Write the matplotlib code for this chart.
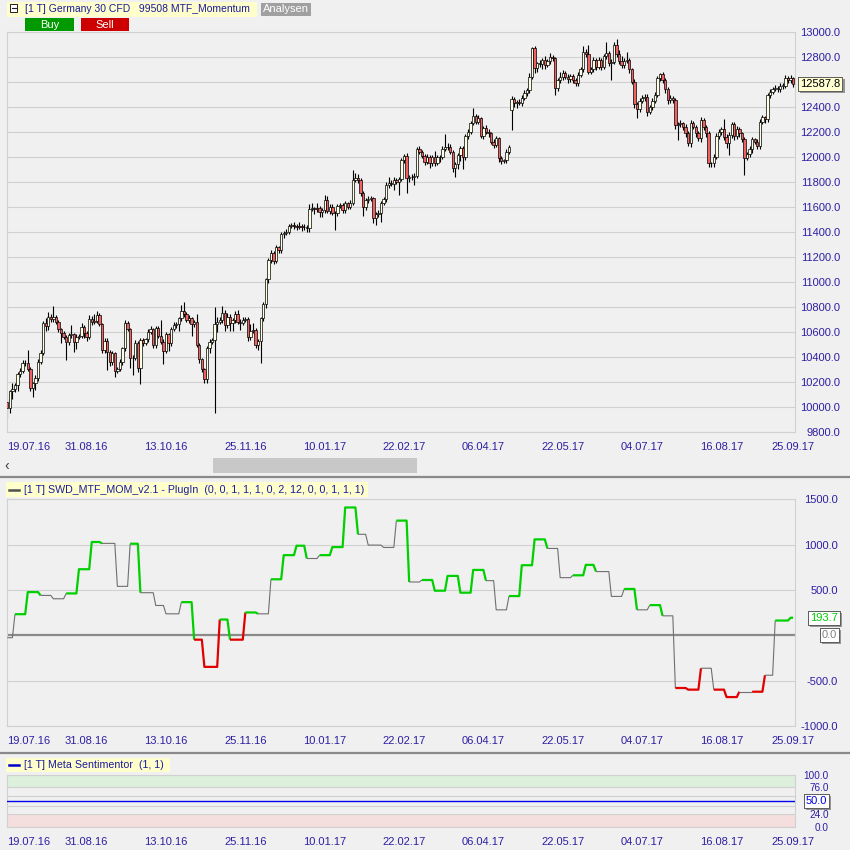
import numpy as np
import matplotlib
matplotlib.use("Agg")
import matplotlib.pyplot as plt
import matplotlib.patheffects as pe
import matplotlib.transforms as mtransforms
from matplotlib.patches import Rectangle
from matplotlib.lines import Line2D

W, H = 850, 850

# ---- data ------------------------------------------------------------------
date_labels = ["19.07.16", "31.08.16", "13.10.16", "25.11.16", "10.01.17", "22.02.17",
               "06.04.17", "22.05.17", "04.07.17", "16.08.17", "25.09.17"]
date_bars = [0, 31, 62, 93, 124, 155, 186, 217, 248, 279, 307]
grid_bars = date_bars[1:-1]

first_open = 10045
gap_opens = {197: 12378}
closes = [
    9991, 10130, 10146, 10181, 10266, 10293, 10351, 10357, 10303, 10151,
    10191, 10231, 10365, 10431, 10671, 10650, 10719, 10706, 10719, 10679,
    10623, 10591, 10565, 10519, 10578, 10583, 10525, 10565, 10570, 10645,
    10591, 10565, 10703, 10685, 10693, 10738, 10663, 10458, 10533, 10445,
    10359, 10431, 10293, 10306, 10365, 10471, 10671, 10623, 10391, 10397,
    10511, 10311, 10538, 10511, 10543, 10605, 10623, 10498, 10631, 10570,
    10525, 10450, 10583, 10511, 10623, 10658, 10663, 10711, 10770, 10743,
    10698, 10711, 10663, 10679, 10498, 10383, 10303, 10223, 10471, 10525,
    10538, 10666, 10684, 10698, 10757, 10658, 10724, 10671, 10698, 10746,
    10684, 10676, 10698, 10705, 10559, 10612, 10618, 10498, 10530, 10711,
    10826, 11023, 11178, 11231, 11173, 11279, 11258, 11383, 11397, 11405,
    11450, 11458, 11450, 11439, 11450, 11439, 11445, 11431, 11583, 11591,
    11583, 11597, 11565, 11578, 11658, 11573, 11605, 11557, 11552, 11610,
    11618, 11578, 11631, 11605, 11637, 11818, 11831, 11818, 11717, 11599,
    11658, 11663, 11671, 11511, 11546, 11557, 11637, 11663, 11778, 11797,
    11783, 11818, 11805, 11826, 11978, 12010, 11831, 11845, 11840, 11853,
    12063, 12045, 12010, 11965, 12000, 11951, 12005, 11951, 12000, 12005,
    12063, 12079, 12085, 12045, 11911, 11946, 12018, 12071, 12000, 12170,
    12205, 12271, 12330, 12285, 12311, 12170, 12231, 12205, 12191, 12125,
    12098, 12151, 11991, 11970, 11975, 12045, 12085, 12463, 12431, 12445,
    12437, 12471, 12511, 12538, 12645, 12871, 12711, 12751, 12743, 12778,
    12738, 12770, 12805, 12791, 12551, 12618, 12639, 12677, 12645, 12623,
    12650, 12618, 12591, 12658, 12703, 12845, 12826, 12685, 12703, 12778,
    12725, 12778, 12725, 12810, 12831, 12757, 12765, 12898, 12826, 12773,
    12738, 12773, 12778, 12703, 12605, 12426, 12383, 12453, 12471, 12485,
    12365, 12405, 12453, 12498, 12631, 12666, 12618, 12543, 12458, 12471,
    12458, 12258, 12266, 12271, 12244, 12191, 12111, 12271, 12245, 12191,
    12151, 12298, 12245, 12191, 11951, 11951, 12005, 12170, 12205, 12225,
    12165, 12116, 12178, 12266, 12170, 12223, 12191, 12143, 11997, 12023,
    12063, 12143, 12125, 12090, 12285, 12319, 12303, 12498, 12525, 12543,
    12551, 12545, 12570, 12572, 12631, 12618, 12631, 12587.8,
]
wick_up = [
    30, 10, 45, 15, 20, 25, 30, 20, 100, 20,
    15, 30, 20, 25, 20, 40, 40, 25, 90, 20,
    20, 15, 20, 15, 20, 75, 15, 20, 15, 30,
    15, 20, 35, 25, 50, 30, 20, 15, 20, 25,
    15, 20, 15, 20, 20, 15, 30, 20, 15, 20,
    25, 20, 15, 20, 15, 20, 25, 15, 20, 20,
    128, 20, 20, 15, 20, 25, 20, 15, 50, 75,
    20, 25, 15, 20, 64, 20, 15, 15, 20, 25,
    20, 138, 40, 25, 50, 20, 30, 20, 20, 25,
    30, 20, 25, 20, 15, 55, 60, 15, 20, 15,
    20, 15, 20, 25, 20, 20, 15, 20, 15, 25,
    20, 15, 25, 15, 30, 15, 20, 15, 40, 45,
    15, 40, 15, 20, 40, 30, 20, 25, 15, 20,
    20, 15, 20, 15, 20, 80, 40, 35, 20, 15,
    20, 25, 20, 15, 20, 25, 15, 20, 25, 45,
    20, 25, 20, 15, 20, 20, 25, 15, 20, 20,
    20, 30, 15, 20, 25, 20, 15, 45, 20, 15,
    25, 107, 30, 20, 15, 20, 15, 20, 20, 15,
    20, 20, 61, 20, 25, 15, 20, 25, 20, 15,
    20, 20, 15, 20, 15, 20, 15, 30, 20, 15,
    20, 25, 30, 20, 32, 14, 20, 15, 25, 20,
    30, 20, 30, 15, 15, 20, 46, 20, 15, 20,
    20, 15, 20, 25, 20, 48, 20, 72, 20, 25,
    20, 25, 20, 20, 94, 20, 20, 25, 52, 30,
    35, 20, 67, 20, 15, 20, 15, 20, 25, 20,
    20, 15, 20, 25, 20, 10, 20, 15, 20, 25,
    20, 15, 20, 25, 15, 20, 20, 30, 20, 15,
    20, 25, 20, 15, 20, 15, 20, 25, 20, 20,
    78, 20, 25, 20, 15, 25, 20, 15, 20, 20,
    25, 20, 15, 20, 25, 20, 15, 20, 25, 20,
    30, 20, 25, 20, 30, 20, 25, 15,
]
wick_dn = [
    80, 40, 60, 20, 50, 20, 15, 20, 15, 20,
    70, 50, 20, 15, 15, 40, 30, 20, 20, 15,
    20, 80, 20, 140, 20, 20, 80, 60, 20, 15,
    40, 35, 20, 25, 15, 20, 15, 20, 20, 150,
    25, 20, 50, 20, 15, 30, 20, 15, 75, 130,
    20, 25, 128, 20, 15, 20, 15, 20, 20, 15,
    20, 104, 15, 60, 20, 15, 20, 50, 20, 20,
    15, 25, 90, 20, 15, 25, 20, 30, 25, 40,
    20, 587, 60, 20, 25, 50, 20, 60, 60, 20,
    15, 60, 20, 15, 30, 20, 20, 25, 40, 174,
    20, 30, 25, 20, 30, 20, 25, 25, 30, 20,
    20, 15, 25, 20, 15, 30, 20, 25, 25, 15,
    40, 20, 45, 45, 20, 20, 25, 20, 130, 20,
    15, 25, 20, 20, 15, 20, 15, 20, 25, 70,
    20, 20, 15, 40, 50, 20, 72, 15, 20, 20,
    15, 45, 20, 107, 15, 20, 114, 25, 20, 60,
    20, 20, 15, 25, 20, 40, 20, 20, 15, 40,
    20, 15, 20, 20, 25, 66, 40, 45, 90, 20,
    20, 20, 15, 20, 20, 15, 20, 20, 25, 20,
    20, 15, 25, 20, 15, 20, 20, 160, 25, 40,
    20, 25, 15, 20, 20, 15, 40, 30, 20, 40,
    30, 15, 20, 20, 53, 20, 25, 20, 20, 30,
    20, 25, 20, 20, 15, 20, 20, 20, 20, 20,
    25, 20, 30, 20, 20, 25, 140, 20, 20, 25,
    20, 25, 20, 25, 20, 30, 70, 20, 20, 20,
    35, 20, 25, 20, 15, 20, 20, 25, 30, 20,
    20, 30, 120, 20, 25, 30, 20, 25, 20, 30,
    20, 30, 25, 25, 26, 26, 30, 20, 20, 25,
    30, 40, 98, 20, 30, 20, 25, 20, 139, 20,
    20, 25, 20, 20, 20, 15, 25, 20, 20, 20,
    15, 20, 25, 20, 20, 25, 20, 25,
]
price_ticks = list(range(9800, 13001, 200))

# momentum indicator: weekly steps (value, bars, state G=up / R=down / N=neutral)
mom_values = [-26, 233, 477, 440, 403, 462, 729, 1029, 1014, 540,
              1010, 470, 329, 237, 366, -48, -348, 174, -48, 252,
              237, 618, 884, 988, 847, 884, 973, 1410, 1114, 995,
              969, 1265, 588, 610, 492, 655, 470, 721, 603, 281,
              433, 773, 1058, 958, 636, 662, 777, 703, 429, 511,
              281, 333, 215, -581, -599, -363, -599, -681, -622, -622,
              -440, 163, 193.7]
mom_lengths = [3, 5, 5, 5, 5, 5, 5, 4, 6, 5,
               4, 6, 4, 6, 5, 4, 6, 4, 6, 5,
               5, 5, 5, 4, 5, 5, 5, 5, 4, 6,
               5, 5, 5, 5, 5, 5, 5, 5, 4, 5,
               5, 5, 5, 5, 5, 5, 4, 6, 5, 5,
               5, 5, 5, 5, 5, 5, 5, 5, 5, 5,
               4, 6, 2]
mom_states = ["N", "G", "G", "N", "N", "G", "G", "G", "N", "N",
              "G", "N", "N", "N", "G", "R", "R", "G", "R", "G",
              "N", "G", "G", "G", "N", "G", "G", "G", "N", "N",
              "N", "G", "N", "G", "G", "G", "G", "G", "N", "N",
              "G", "G", "G", "N", "N", "G", "G", "N", "N", "G",
              "N", "G", "N", "R", "R", "N", "R", "R", "N", "R",
              "N", "G", "G"]
mom_ticks = [1500, 1000, 500, -500, -1000]

meta_value = 50.0
meta_ticks = [0, 24, 40, 60, 76, 100]
meta_labels = ["0.0", "24.0", "40.0", "", "76.0", "100.0"]  # 60 sits under the value box

# ---- style ------------------------------------------------------------------
BG = "#f0f0f0"
GRID = "#d0d0d0"
AXIS_TXT = "#2d1fa3"
HEAD_TXT = "#1a1a9c"
LABEL_BG = "#ffffcc"
UP_FILL = "#ffffe6"
DOWN_FILL = "#f06262"
STATE_STYLE = {"G": ("#00d000", 1.6), "R": ("#e00000", 1.6), "N": ("#707070", 0.8)}

AX_LEFT, AX_RIGHT = 7.0, 794.5
X_LEFT = (AX_LEFT - 7.3) / 2.563
X_RIGHT = (AX_RIGHT - 7.3) / 2.563 + 0.4

plt.rcParams["font.family"] = ["Liberation Sans", "DejaVu Sans"]


def fx(px):
    return px / W


def fy(py):
    return 1 - py / H


def axes_rect(top, bottom):
    return [fx(AX_LEFT), fy(bottom), (AX_RIGHT - AX_LEFT) / W, (bottom - top) / H]


def style_axes(ax, yticks, ylabels, label_right_px):
    ax.set_facecolor(BG)
    for spine in ax.spines.values():
        spine.set_color(GRID)
        spine.set_linewidth(0.8)
    ax.set_xlim(X_LEFT, X_RIGHT)
    ax.set_xticks(date_bars, date_labels)
    ax.set_xticks(grid_bars, minor=True)
    ax.xaxis.grid(True, which="minor", color=GRID, linewidth=0.8)
    ax.tick_params(axis="x", which="both", length=0, pad=7.2, labelsize=8, labelcolor=AXIS_TXT)
    ax.get_xticklabels()[0].set_horizontalalignment("left")
    ax.yaxis.tick_right()
    ax.set_yticks(yticks, ylabels)
    ax.yaxis.grid(True, color=GRID, linewidth=0.8)
    ax.tick_params(axis="y", length=0, pad=(label_right_px - AX_RIGHT) * 0.72,
                   labelsize=8, labelcolor=AXIS_TXT)
    for lab in ax.get_yticklabels():
        lab.set_horizontalalignment("right")
    ax.set_axisbelow(True)


def value_box(ax, left_px, y, text, color, face):
    trans = mtransforms.blended_transform_factory(ax.transAxes, ax.transData)
    xa = (left_px - AX_LEFT) / (AX_RIGHT - AX_LEFT)
    t = ax.text(xa, y, text, transform=trans, ha="left", va="center", fontsize=8, color=color,
                clip_on=False, zorder=10,
                bbox=dict(boxstyle="square,pad=0.18", fc=face, ec="#505050", lw=0.6))
    t.get_bbox_patch().set_path_effects(
        [pe.withSimplePatchShadow(offset=(1.5, -1.5), shadow_rgbFace="#8c8c8c", alpha=0.9), pe.Normal()])
    return t


def header_label(x0, x1, y0, y1, text, text_x, size, marker=None):
    fig.patches.append(Rectangle((fx(x0), fy(y1)), (x1 - x0) / W, (y1 - y0) / H,
                                 transform=fig.transFigure, facecolor=LABEL_BG, edgecolor="none"))
    yc = (y0 + y1) / 2
    if marker is not None:
        fig.add_artist(Line2D([fx(x0 + 3), fx(x0 + 13)], [fy(yc), fy(yc)], transform=fig.transFigure,
                              color=marker, linewidth=1.8))
    fig.text(fx(text_x), fy(yc), text, ha="left", va="center", fontsize=size, color=HEAD_TXT)


def button(x0, x1, y0, y1, text, face):
    fig.patches.append(Rectangle((fx(x0), fy(y1)), (x1 - x0) / W, (y1 - y0) / H,
                                 transform=fig.transFigure, facecolor=face, edgecolor="none"))
    fig.text(fx((x0 + x1) / 2), fy((y0 + y1) / 2 + 0.5), text, ha="center", va="center",
             fontsize=8, color="white")


def hline_px(y, color, lw):
    fig.add_artist(Line2D([0, 1], [fy(y), fy(y)], transform=fig.transFigure, color=color, linewidth=lw))


fig = plt.figure(figsize=(W / 100, H / 100), dpi=100, facecolor=BG)

# ---- price panel -------------------------------------------------------------
ax_price = fig.add_axes(axes_rect(32.3, 432.3))
style_axes(ax_price, price_ticks, [f"{v:.1f}" for v in price_ticks], 840)
ax_price.set_ylim(9800, 13000)

c = np.array(closes, dtype=float)
o = np.empty_like(c)
o[0] = first_open
o[1:] = c[:-1]
for idx, val in gap_opens.items():
    o[idx] = val
hi = np.maximum(o, c) + np.array(wick_up)
lo = np.minimum(o, c) - np.array(wick_dn)
xb = np.arange(len(c))
rising = c >= o
ax_price.vlines(xb, lo, hi, color="black", linewidth=0.8, zorder=2)
ax_price.bar(xb, np.maximum(np.abs(c - o), 6), width=0.92, bottom=np.minimum(o, c),
             color=np.where(rising, UP_FILL, DOWN_FILL), edgecolor="black", linewidth=0.5, zorder=3)
value_box(ax_price, 800.2, c[-1], f"{c[-1]:.1f}", "black", "#ffffd2")

# ---- momentum panel ----------------------------------------------------------
ax_mom = fig.add_axes(axes_rect(499.3, 726.0))
style_axes(ax_mom, mom_ticks, [f"{v:.1f}" for v in mom_ticks], 838)
ax_mom.set_ylim(-1000, 1500)
ax_mom.axhline(0, color="#8a8a8a", linewidth=1.6, zorder=2)

mom = np.repeat(np.array(mom_values, dtype=float), mom_lengths)
states = np.repeat(np.array(mom_states), mom_lengths)
xm = np.arange(len(mom))
start = 0
for i in range(1, len(mom) + 1):
    if i == len(mom) or states[i] != states[start]:
        end = min(i, len(mom) - 1)
        color, lw = STATE_STYLE[states[start]]
        ax_mom.plot(xm[start:end + 1], mom[start:end + 1], color=color, linewidth=lw, zorder=3,
                    solid_capstyle="butt")
        start = i
value_box(ax_mom, 810.0, mom[-1], f"{mom[-1]:.1f}", "#00cc00", "white")
value_box(ax_mom, 822.0, 0, "0.0", "#808080", "white")

# ---- meta sentimentor panel --------------------------------------------------
ax_meta = fig.add_axes(axes_rect(775.0, 826.7))
style_axes(ax_meta, meta_ticks, meta_labels, 829)
ax_meta.tick_params(axis="y", labelsize=7.2)
ax_meta.set_ylim(0, 100)
ax_meta.axhspan(76, 100, color="#dcf0dc", zorder=0.5, linewidth=0)
ax_meta.axhspan(0, 24, color="#f5dede", zorder=0.5, linewidth=0)
ax_meta.axhline(meta_value, color="#0000ee", linewidth=1.0, zorder=3)
value_box(ax_meta, 806.0, meta_value, f"{meta_value:.1f}", "#0000dd", "white")

# ---- headers, buttons, scrollbar, separators ---------------------------------
header_label(7, 257, 2, 17, "[1 T] Germany 30 CFD   99508 MTF_Momentum", 25, 7.5)
fig.patches.append(Rectangle((fx(10), fy(12)), 7 / W, 8 / H, transform=fig.transFigure,
                             facecolor="white", edgecolor="#202020", linewidth=0.7))
fig.add_artist(Line2D([fx(11.5), fx(15.5)], [fy(8), fy(8)], transform=fig.transFigure,
                      color="#202020", linewidth=0.8))
fig.patches.append(Rectangle((fx(261), fy(16)), 50 / W, 13 / H, transform=fig.transFigure,
                             facecolor="#a0a0a0", edgecolor="none"))
fig.text(fx(286), fy(9.5), "Analysen", ha="center", va="center", fontsize=8, color="white")
button(25, 74, 18, 31, "Buy", "#009a00")
button(81, 129, 18, 31, "Sell", "#cc0000")

fig.patches.append(Rectangle((fx(213), fy(473)), 204 / W, 15 / H, transform=fig.transFigure,
                             facecolor="#c8c8c8", edgecolor="none"))
fig.text(fx(4), fy(466), "\u2039", ha="left", va="center", fontsize=10, color="#404040")

hline_px(477, "#8a8a8a", 1.6)
hline_px(753, "#8a8a8a", 1.6)

header_label(6, 368, 482, 497,
             "[1 T] SWD_MTF_MOM_v2.1 - PlugIn  (0, 0, 1, 1, 1, 0, 2, 12, 0, 0, 1, 1, 1)", 24, 7.7,
             marker="#505050")
header_label(6, 170, 758, 772, "[1 T] Meta Sentimentor  (1, 1)", 24, 7.7, marker="#0000cc")

fig.savefig("out.png", dpi=100, facecolor=BG)
